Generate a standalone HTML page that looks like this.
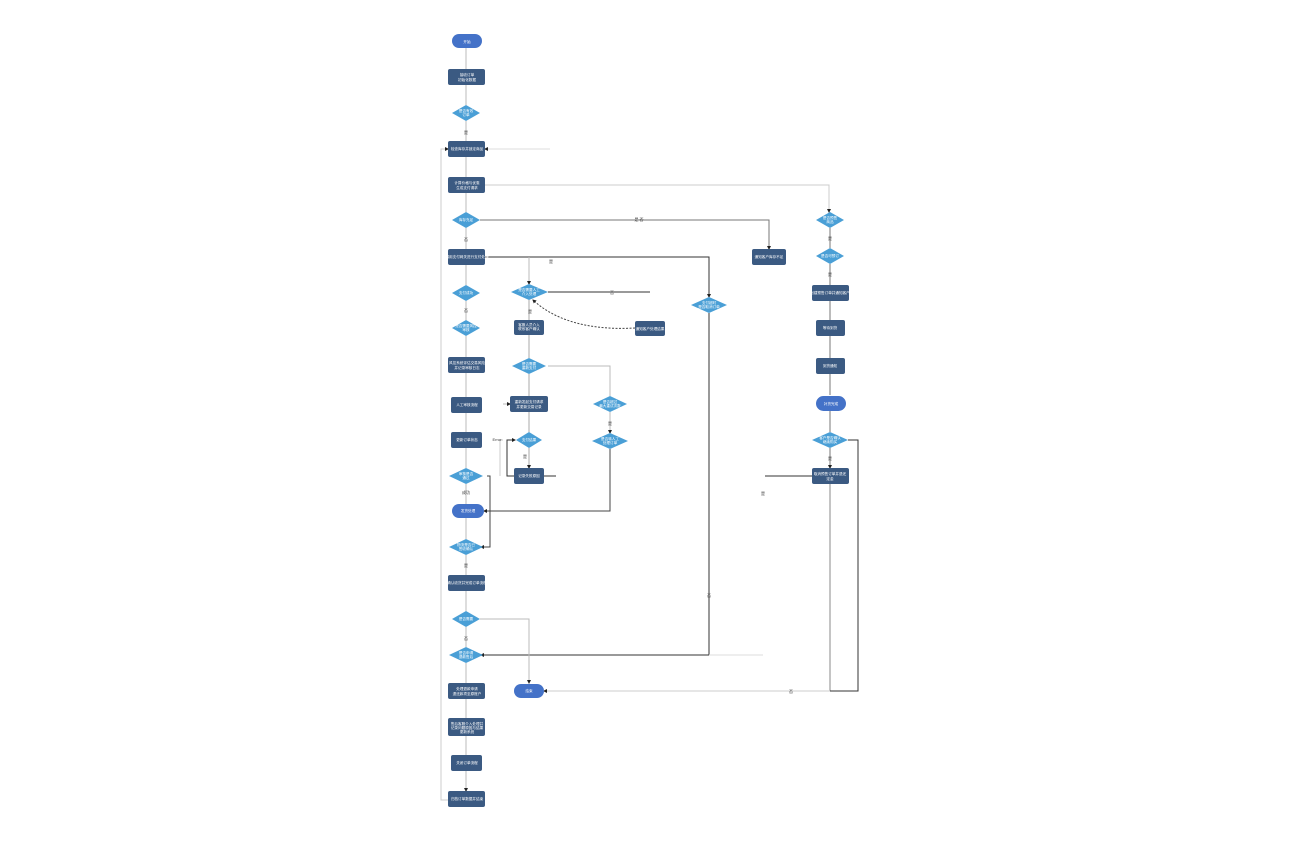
<!DOCTYPE html>
<html><head><meta charset="utf-8"><style>
html,body{margin:0;padding:0;background:#fff;}
svg text{font-family:"Liberation Sans","Noto Sans CJK SC",sans-serif;font-size:3.6px;fill:#fff;text-anchor:middle;}
.l{font-size:4px;fill:#333;}
</style></head><body>
<svg width="1296" height="840" viewBox="0 0 1296 840" xmlns="http://www.w3.org/2000/svg">
<defs>
<marker id="a" markerWidth="4" markerHeight="4" refX="3" refY="2" orient="auto"><path d="M0,0L4,2L0,4z" fill="#222"/></marker>
</defs>
<g fill="none" stroke-width="1">
<!-- main column -->
<path d="M466 48V69M466 85V105M466 121V141M466 157V177M466 193V212M466 228V249M466 265V285M466 301V320M466 336V357M466 373V397M466 413V432M466 448V468M466 484V504M466 518V539M466 555V575M466 591V611M466 627V647M466 663V683M466 699V718M466 736V755M466 771V791" stroke="#bbb" marker-end="url(#a)"/>
<path d="M448 800H441V149H448" stroke="#ccc" marker-end="url(#a)"/>
<path d="M550 149H485" stroke="#ddd" marker-end="url(#a)"/>
<path d="M485 185H829V212" stroke="#ccc" marker-end="url(#a)"/>
<path d="M480 220H769V249" stroke="#777" marker-end="url(#a)"/>
<path d="M485 257H709V297" stroke="#333" marker-end="url(#a)"/>
<path d="M529 257V284" stroke="#bbb" marker-end="url(#a)"/>
<path d="M709 313V655H481" stroke="#333" marker-end="url(#a)"/>
<path d="M709 655H763" stroke="#ddd"/>
<path d="M548 292H650" stroke="#333"/>
<path d="M635 328C600 330 560 325 533 300" stroke="#444" stroke-dasharray="2,1.5" marker-end="url(#a)"/>
<path d="M529 300V320M529 335V358M529 374V396M529 412V432M529 448V468" stroke="#aaa" marker-end="url(#a)"/>
<path d="M548 366H610V396M610 412V433" stroke="#bbb" marker-end="url(#a)"/>
<path d="M610 449V511H484" stroke="#444" marker-end="url(#a)"/>
<path d="M514 476H507V440H515" stroke="#333" marker-end="url(#a)"/>
<path d="M544 476H556" stroke="#333"/>
<path d="M487 476H490V547H481" stroke="#444" marker-end="url(#a)"/>
<path d="M503 404H510" stroke="#bbb" marker-end="url(#a)"/>
<path d="M500 476V440H503" stroke="#ccc"/>
<path d="M480 619H529V683" stroke="#bbb" marker-end="url(#a)"/>
<!-- right column -->
<path d="M830 228V248M830 264V285M830 301V320M830 336V358M830 374V395M830 411V432M830 448V468" stroke="#777" marker-end="url(#a)"/>
<path d="M830 484V691" stroke="#888"/>
<path d="M848 440H858V691H830" stroke="#333"/>
<path d="M812 476H765" stroke="#333"/>
<path d="M830 691H544" stroke="#ccc" marker-end="url(#a)"/>
</g>
<!-- labels -->
<text class="l" x="466" y="134">是</text>
<text class="l" x="466" y="241">否</text>
<text class="l" x="639" y="221">是 否</text>
<text class="l" x="551" y="263">是</text>
<text class="l" x="466" y="312">否</text>
<text class="l" x="612" y="294">否</text>
<text class="l" x="530" y="313">是</text>
<text class="l" x="497" y="441">Error</text>
<text class="l" x="525" y="458">是</text>
<text class="l" x="610" y="425">是</text>
<text class="l" x="466" y="494">成功</text>
<text class="l" x="466" y="567">是</text>
<text class="l" x="466" y="640">否</text>
<text class="l" x="709" y="597">否</text>
<text class="l" x="830" y="240">是</text>
<text class="l" x="830" y="276">是</text>
<text class="l" x="830" y="460">是</text>
<text class="l" x="763" y="495">是</text>
<text class="l" x="791" y="693">否</text>
<!-- pills -->
<g fill="#4472c8">
<rect x="452" y="34" width="30" height="14" rx="7"/>
<rect x="452" y="504" width="32" height="14" rx="7"/>
<rect x="514" y="684" width="30" height="14" rx="7"/>
<rect x="816" y="396" width="30" height="15" rx="7.5"/>
</g>
<!-- rects -->
<g fill="#3b5a82">
<rect x="448" y="69" width="37" height="16" rx="2"/>
<rect x="448" y="141" width="37" height="16" rx="2"/>
<rect x="448" y="177" width="37" height="16" rx="2"/>
<rect x="448" y="249" width="37" height="16" rx="2"/>
<rect x="448" y="357" width="37" height="16" rx="2"/>
<rect x="451" y="397" width="31" height="16" rx="2"/>
<rect x="451" y="432" width="31" height="16" rx="2"/>
<rect x="448" y="575" width="37" height="16" rx="2"/>
<rect x="448" y="683" width="37" height="16" rx="2"/>
<rect x="448" y="718" width="37" height="18" rx="2"/>
<rect x="451" y="755" width="31" height="16" rx="2"/>
<rect x="448" y="791" width="37" height="16" rx="2"/>
<rect x="514" y="320" width="30" height="15" rx="2"/>
<rect x="510" y="396" width="38" height="16" rx="2"/>
<rect x="514" y="468" width="30" height="16" rx="2"/>
<rect x="635" y="321" width="30" height="15" rx="2"/>
<rect x="752" y="249" width="34" height="16" rx="2"/>
<rect x="812" y="285" width="37" height="16" rx="2"/>
<rect x="816" y="320" width="29" height="16" rx="2"/>
<rect x="816" y="358" width="29" height="16" rx="2"/>
<rect x="812" y="468" width="37" height="16" rx="2"/>
</g>
<!-- diamonds -->
<g fill="#4a9fd6">
<path d="M452 113L466 105L480 113L466 121z"/>
<path d="M452 220L466 212L480 220L466 228z"/>
<path d="M452 293L466 285L480 293L466 301z"/>
<path d="M452 328L466 320L480 328L466 336z"/>
<path d="M449 476L466 468L483 476L466 484z"/>
<path d="M449 547L466 539L483 547L466 555z"/>
<path d="M452 619L466 611L480 619L466 627z"/>
<path d="M449 655L466 647L483 655L466 663z"/>
<path d="M511 292L529 284L548 292L529 300z"/>
<path d="M512 366L529 358L546 366L529 374z"/>
<path d="M516 440L529 432L542 440L529 448z"/>
<path d="M593 404L610 396L627 404L610 412z"/>
<path d="M592 441L610 433L628 441L610 449z"/>
<path d="M691 305L709 297L727 305L709 313z"/>
<path d="M816 220L830 212L844 220L830 228z"/>
<path d="M816 256L830 248L844 256L830 264z"/>
<path d="M812 440L830 432L848 440L830 448z"/>
</g>
<!-- node texts -->
<text x="467" y="43">开始</text>
<text x="467" y="76">接收订单</text><text x="467" y="81">初始化数据</text>
<text x="466" y="112">是否有效</text><text x="466" y="116">订单</text>
<text x="467" y="150">检查库存并锁定商品</text>
<text x="467" y="184">计算价格与优惠</text><text x="467" y="189">生成支付请求</text>
<text x="466" y="221">库存充足</text>
<text x="467" y="258">调用支付网关进行支付处理</text>
<text x="466" y="294">支付成功</text>
<text x="466" y="327">是否需要风控</text><text x="466" y="331">审核</text>
<text x="467" y="364">风控系统评估交易风险</text><text x="467" y="369">并记录审核日志</text>
<text x="467" y="406">人工审核流程</text>
<text x="467" y="441">更新订单状态</text>
<text x="466" y="475">审核是否</text><text x="466" y="479">通过</text>
<text x="468" y="512">发货处理</text>
<text x="466" y="546">物流是否已</text><text x="466" y="550">签收确认</text>
<text x="467" y="584">确认收货并完成订单流程</text>
<text x="466" y="620">是否需要</text>
<text x="466" y="654">是否申请</text><text x="466" y="658">退款售后</text>
<text x="467" y="690">处理退款申请</text><text x="467" y="695">退还款项至原账户</text>
<text x="467" y="725">售后客服介入处理并</text><text x="467" y="729">记录问题原因与结果</text><text x="467" y="733">更新系统</text>
<text x="467" y="764">关闭订单流程</text>
<text x="467" y="800">归档订单数据并结束</text>
<text x="529" y="291">是否需要人工</text><text x="529" y="295">介入处理</text>
<text x="529" y="326">客服人员介入</text><text x="529" y="330">联系客户确认</text>
<text x="529" y="365">是否需要</text><text x="529" y="369">重新支付</text>
<text x="529" y="403">重新发起支付请求</text><text x="529" y="408">并更新交易记录</text>
<text x="529" y="441">支付结果</text>
<text x="529" y="477">记录失败原因</text>
<text x="529" y="692">结束</text>
<text x="650" y="330">通知客户处理结果</text>
<text x="610" y="403">是否超过</text><text x="610" y="407">最大重试次数</text>
<text x="610" y="440">是否转人工</text><text x="610" y="444">处理订单</text>
<text x="709" y="304">支付超时</text><text x="709" y="308">是否取消订单</text>
<text x="769" y="258">通知客户库存不足</text>
<text x="830" y="219">是否预售</text><text x="830" y="223">商品</text>
<text x="830" y="257">是否可预订</text>
<text x="830" y="294">创建预售订单并通知客户</text>
<text x="830" y="329">等待到货</text>
<text x="830" y="367">到货通知</text>
<text x="831" y="405">补货完成</text>
<text x="830" y="439">客户是否确认</text><text x="830" y="443">继续购买</text>
<text x="830" y="475">取消预售订单并退还</text><text x="830" y="480">定金</text>
</svg>
</body></html>
